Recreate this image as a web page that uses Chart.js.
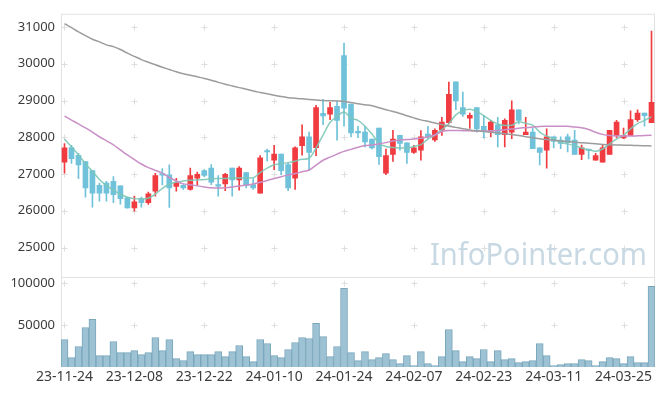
<!DOCTYPE html>
<html><head><meta charset="utf-8">
<script src="https://cdn.jsdelivr.net/npm/chart.js@4"></script>
<style>
html,body{margin:0;padding:0;background:#fff;}
#wrap{position:relative;width:665px;height:396px;}
canvas{position:absolute;left:0;top:0;}
</style></head><body>
<div id="wrap"><canvas id="price" width="665" height="396"></canvas><canvas id="vol" width="665" height="396"></canvas></div>
<script>
const dates = ['23-11-24','23-11-27','23-11-28','23-11-29','23-11-30','23-12-01','23-12-04','23-12-05','23-12-06','23-12-07',
'23-12-08','23-12-11','23-12-12','23-12-13','23-12-14','23-12-15','23-12-18','23-12-19','23-12-20','23-12-21',
'23-12-22','23-12-26','23-12-27','23-12-28','24-01-02','24-01-03','24-01-04','24-01-05','24-01-08','24-01-09',
'24-01-10','24-01-11','24-01-12','24-01-15','24-01-16','24-01-17','24-01-18','24-01-19','24-01-22','24-01-23',
'24-01-24','24-01-25','24-01-26','24-01-29','24-01-30','24-01-31','24-02-01','24-02-02','24-02-05','24-02-06',
'24-02-07','24-02-08','24-02-13','24-02-14','24-02-15','24-02-16','24-02-19','24-02-20','24-02-21','24-02-22',
'24-02-23','24-02-26','24-02-27','24-02-28','24-02-29','24-03-04','24-03-05','24-03-06','24-03-07','24-03-08',
'24-03-11','24-03-12','24-03-13','24-03-14','24-03-15','24-03-18','24-03-19','24-03-20','24-03-21','24-03-22',
'24-03-25','24-03-26','24-03-27','24-03-28','24-03-29'];

const opens  = [27320,27720,27510,27340,27090,26690,26750,26800,26680,26350,26080,26330,26220,26530,26990,26980,26660,26690,26580,26890,27090,27160,26690,26730,27160,26840,27040,26710,26480,27620,27380,27540,27260,26890,27770,28010,27720,28650,28630,28840,30220,28900,28140,28140,27950,28250,27020,27530,28050,27850,27590,27650,28090,27930,28190,28400,29510,28810,28520,28810,28300,28160,28340,28070,28140,28750,28070,28140,27710,27650,28010,27920,28010,27920,27530,27650,27380,27320,27530,28050,27980,28050,28480,28660,28400];
const highs  = [27830,27780,27560,27340,27100,26750,26800,26930,26680,26370,26400,26370,26510,27020,27150,27250,26880,26710,27160,27050,27120,27260,26960,27020,27160,27200,27040,26870,27500,27680,27780,27540,27290,27740,28340,28140,28870,29030,28950,28990,30560,28900,28300,28300,27950,28250,27680,28190,28060,27850,27780,28180,28300,28230,28540,29500,29510,29230,28660,28810,28600,28460,28540,28500,28990,28750,28540,28250,27710,28230,28010,28010,28090,28190,27790,27660,27560,27780,28190,28460,28250,28720,28750,28660,30890];
const lows   = [27020,27290,26870,26370,26100,26260,26260,26220,26180,26070,25990,26100,26170,26400,26700,26090,26530,26580,26560,26690,26930,26710,26400,26550,26400,26560,26620,26580,26480,27350,27120,26980,26550,26580,27510,27090,27500,28340,28480,27920,28300,28010,27990,27740,27680,27260,26980,27340,27650,27290,27560,27380,27960,27890,28050,28360,28750,28570,28240,28140,27980,28010,27740,27740,27960,28360,28070,27690,27250,27160,27710,27690,27600,27530,27390,27410,27380,27320,27530,27980,27960,28050,28430,28300,28400];
const closes = [27710,27420,27250,26620,26480,26480,26480,26440,26330,26080,26240,26220,26460,26960,26970,26620,26750,26620,26960,26990,26960,26780,26670,26990,26840,27160,26690,26620,27440,27600,27540,27090,26620,27710,28010,27590,28810,28580,28810,28460,28790,28120,28120,27870,27710,27470,27500,27950,27830,27590,27710,28010,28010,28190,28410,29170,28990,28630,28600,28230,28160,28410,28070,28460,28750,28460,28140,27690,27590,28010,27890,27830,27850,27530,27710,27640,27500,27710,28190,28410,28050,28480,28660,28590,28950];

const ma5  = [27950,27740,27520,27280,27070,26850,26690,26560,26450,26370,26330,26320,26340,26450,26610,26720,26780,26810,26830,26840,26850,26870,26880,26880,26890,26890,26890,26900,27040,27160,27250,27280,27310,27350,27400,27430,27710,28060,28400,28570,28690,28520,28460,28300,28090,27830,27750,27720,27710,27710,27750,27800,27950,28060,28210,28370,28610,28720,28760,28700,28590,28460,28360,28320,28330,28420,28380,28330,28140,28030,27960,27860,27820,27770,27710,27660,27620,27680,27820,27950,28050,28230,28370,28460,28560];
const ma20 = [28575,28468,28363,28256,28143,28014,27904,27794,27657,27518,27394,27273,27174,27099,27026,26905,26811,26731,26709,26677,26648,26623,26618,26629,26648,26672,26699,26731,26777,26825,26879,26927,26970,27013,27061,27109,27241,27375,27461,27542,27617,27671,27727,27773,27791,27818,27856,27899,27926,27936,27953,27971,28014,28060,28159,28186,28186,28180,28175,28170,28170,28175,28186,28205,28226,28248,28261,28277,28294,28297,28300,28302,28300,28277,28258,28213,28135,28079,28046,28033,28033,28033,28038,28046,28054];
const ma60 = [31094,30981,30868,30764,30667,30595,30514,30466,30388,30288,30200,30114,30041,29972,29907,29845,29784,29730,29687,29644,29601,29553,29494,29443,29397,29351,29308,29260,29220,29182,29145,29107,29078,29061,29045,29029,29016,29002,28994,28986,28976,28946,28911,28884,28857,28804,28750,28699,28645,28586,28527,28473,28433,28390,28347,28304,28269,28234,28200,28175,28154,28135,28116,28098,28073,28047,28017,27987,27961,27939,27920,27901,27885,27867,27853,27837,27821,27805,27797,27791,27786,27781,27775,27770,27765];

const volumes = [32850,11270,24460,47240,56830,13670,13670,30450,17270,17270,19660,14870,17270,35250,19660,32850,10070,7670,18460,14870,14870,14870,18460,12470,18460,25660,12470,6470,32850,28060,13670,11270,20860,29260,35250,34050,52040,36450,12470,24460,94000,17270,7670,18460,8870,11270,16070,8870,4080,13670,1680,18460,4080,1680,12470,44840,19660,6470,12470,10070,20860,6470,19660,8870,10070,5280,6470,7670,28060,13670,1680,2880,4080,4080,8870,7670,1680,6470,11270,10070,4080,12470,5280,5280,96400];

const priceTicks = [25000,26000,27000,28000,29000,30000,31000];
const volumeTicks = [50000,100000];
const labelEvery = 10;
const watermark = 'InfoPointer.com';

const UP = '#f03c41', DOWN = '#6fc2d9';
const candleColors = opens.map((o,i) => closes[i] >= o ? UP : DOWN);

Chart.defaults.font.family = "'Noto Sans', 'DejaVu Sans', sans-serif";
Chart.defaults.font.size = 13;
Chart.defaults.color = '#3c3c3c';

function crossesPlugin(withBorders) {
  return {
    id: 'crosses',
    beforeDatasetsDraw(chart) {
      const {ctx, chartArea: a, scales: {x, y}} = chart;
      ctx.save();
      ctx.strokeStyle = '#e2e2e2';
      ctx.lineWidth = 1;
      ctx.beginPath();
      ctx.moveTo(a.left + 0.5, a.top); ctx.lineTo(a.left + 0.5, a.bottom);
      ctx.moveTo(a.right - 0.5, a.top); ctx.lineTo(a.right - 0.5, a.bottom);
      if (withBorders) {
        ctx.moveTo(a.left, a.top + 0.5); ctx.lineTo(a.right, a.top + 0.5);
        ctx.moveTo(a.left, a.bottom - 0.5); ctx.lineTo(a.right, a.bottom - 0.5);
      }
      ctx.stroke();
      ctx.strokeStyle = '#dedede';
      ctx.beginPath();
      for (let i = 0; i < dates.length; i += labelEvery) {
        const px = Math.round(x.getPixelForValue(i)) + 0.5;
        for (const t of y.ticks) {
          const py = Math.round(y.getPixelForValue(t.value)) + 0.5;
          ctx.moveTo(px - 3, py); ctx.lineTo(px + 3, py);
          ctx.moveTo(px, py - 3); ctx.lineTo(px, py + 3);
        }
      }
      ctx.stroke();
      ctx.restore();
    }
  };
}

const watermarkPlugin = {
  id: 'wm',
  beforeDatasetsDraw(chart) {
    const {ctx} = chart;
    ctx.save();
    ctx.font = "31px 'Noto Sans', sans-serif";
    ctx.fillStyle = '#c8d9e4';
    ctx.textBaseline = 'alphabetic';
    const w = ctx.measureText(watermark).width;
    ctx.translate(430, 265);
    ctx.scale(217 / w, 1);
    ctx.fillText(watermark, 0, 0);
    ctx.restore();
  }
};

const lineStyle = {type: 'line', borderWidth: 1.5, pointRadius: 0, cubicInterpolationMode: 'monotone', order: 0};

new Chart(document.getElementById('price'), {
  type: 'bar',
  data: {
    labels: dates,
    datasets: [
      Object.assign({data: ma60, borderColor: '#9c9c9c'}, lineStyle),
      Object.assign({data: ma20, borderColor: '#c98fc6'}, lineStyle),
      Object.assign({data: ma5, borderColor: 'rgba(124,198,182,0.9)'}, lineStyle),
      {data: lows.map((l,i) => [l, highs[i]]), backgroundColor: candleColors, barThickness: 1, grouped: false, order: 2},
      {data: opens.map((o,i) => [o, closes[i]]), backgroundColor: candleColors, barThickness: 5, minBarLength: 1.5, grouped: false, order: 1}
    ]
  },
  options: {
    responsive: false, animation: false,
    layout: {padding: {top: 10, right: 10, bottom: 118, left: 0}},
    plugins: {legend: {display: false}, tooltip: {enabled: false}},
    scales: {
      x: {type: 'category', offset: true, display: false, grid: {display: false}},
      y: {
        min: 24170, max: 31360,
        afterBuildTicks: s => { s.ticks = priceTicks.map(v => ({value: v})); },
        afterFit: s => { s.width = 61; },
        grid: {display: false, drawTicks: false},
        border: {display: false},
        ticks: {padding: 6, callback: v => String(v)}
      }
    }
  },
  plugins: [crossesPlugin(true), watermarkPlugin]
});

new Chart(document.getElementById('vol'), {
  type: 'bar',
  data: {
    labels: dates,
    datasets: [
      {data: volumes, backgroundColor: '#9dc2d3', borderColor: '#79a6bb', borderWidth: 1, categoryPercentage: 1, barPercentage: 1}
    ]
  },
  options: {
    responsive: false, animation: false,
    layout: {padding: {top: 278, right: 10, bottom: 0, left: 0}},
    plugins: {legend: {display: false}, tooltip: {enabled: false}},
    scales: {
      x: {
        type: 'category', offset: true,
        afterBuildTicks: s => { s.ticks = s.ticks.filter(t => t.value % labelEvery === 0); },
        afterFit: s => { s.height = 29; },
        grid: {display: false, drawTicks: false},
        border: {display: false},
        ticks: {autoSkip: false, maxRotation: 0, padding: 2, font: {size: 14}, callback: v => dates[v]}
      },
      y: {
        min: 0, max: 106350,
        afterBuildTicks: s => { s.ticks = volumeTicks.map(v => ({value: v})); },
        afterFit: s => { s.width = 61; },
        grid: {display: false, drawTicks: false},
        border: {display: false},
        ticks: {padding: 6, callback: v => String(v)}
      }
    }
  },
  plugins: [crossesPlugin(false)]
});
</script>
</body></html>
